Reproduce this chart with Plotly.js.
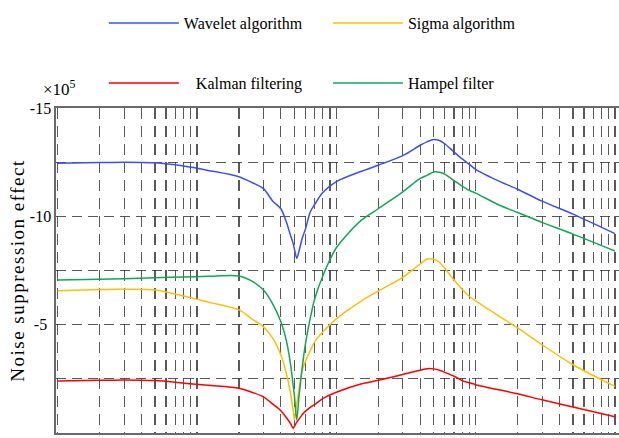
<!DOCTYPE html>
<html><head><meta charset="utf-8">
<script src="https://cdn.plot.ly/plotly-3.0.1.min.js"></script>
<style>html,body{margin:0;padding:0;background:#fff}#chart{width:619px;height:438px}
.ytitle{letter-spacing:1.5px}</style>
</head><body><div id="chart"></div>
<script>
const freq    = [1, 2, 3, 5, 8, 12, 20, 25, 30, 35, 40, 44, 47, 49, 50, 52, 54, 57, 60, 65, 70, 80, 100, 150, 200, 300, 400, 450, 500, 550, 600, 700, 800, 900, 1000, 1500, 2000, 3000, 5000, 10000];
const wavelet = [-12.45, -12.48, -12.5, -12.47, -12.32, -12.12, -11.83, -11.55, -11.28, -10.7, -10.35, -9.7, -9.1, -8.75, -8.5, -8.06, -8.4, -9.0, -9.4, -10.2, -10.55, -11.1, -11.6, -12.07, -12.36, -12.8, -13.28, -13.45, -13.55, -13.5, -13.35, -12.97, -12.65, -12.4, -12.17, -11.6, -11.25, -10.7, -10.1, -9.2];
const sigma   = [-6.57, -6.62, -6.63, -6.6, -6.32, -6.04, -5.68, -5.25, -4.9, -4.37, -3.6, -2.7, -1.8, -1.05, -0.6, -1.34, -2.0, -2.9, -3.3, -3.8, -4.22, -4.66, -5.27, -6.08, -6.55, -7.18, -7.8, -8.03, -8.02, -7.88, -7.6, -7.06, -6.63, -6.31, -6.1, -5.36, -4.85, -4.07, -3.15, -2.15];
const kalman  = [-2.4, -2.43, -2.45, -2.42, -2.3, -2.2, -2.07, -1.87, -1.67, -1.33, -1.03, -0.69, -0.43, -0.22, -0.3, -0.5, -0.64, -0.85, -1.0, -1.18, -1.32, -1.59, -1.88, -2.26, -2.43, -2.7, -2.9, -2.97, -2.96, -2.9, -2.8, -2.62, -2.42, -2.32, -2.23, -1.98, -1.81, -1.53, -1.2, -0.75];
const hampel  = [-7.06, -7.1, -7.12, -7.17, -7.2, -7.23, -7.25, -7.0, -6.6, -5.95, -5.13, -4.2, -3.15, -2.2, -1.75, -0.6, -1.7, -3.05, -4.1, -5.3, -6.2, -7.25, -8.55, -9.8, -10.35, -11.13, -11.75, -11.9, -12.05, -12.03, -11.95, -11.65, -11.4, -11.2, -11.07, -10.5, -10.18, -9.72, -9.18, -8.4];

const seriesNames = ['Wavelet algorithm', 'Sigma algorithm', '\u00a0\u00a0\u00a0Kalman filtering', 'Hampel filter'];
const yTickVals = [0, -2.5, -5, -7.5, -10, -12.5, -15];
const yTickText = ['0\u00a0\u00a0', '', '-5\u00a0', '', '-10', '', '-15'];

const serif = 'Liberation Serif';
const gridCol = 'rgba(60,60,60,0.85)';

function tr(y, name, color, leg) {
  return {x: freq, y: y, name: name, type: 'scatter', mode: 'lines',
    line: {color: color, width: 1.5, shape: 'spline', smoothing: 0.8}, legend: leg};
}
const data = [
  tr(wavelet, seriesNames[0], '#3d4ef7', 'legend'),
  tr(sigma, seriesNames[1], '#ffc000', 'legend2'),
  tr(kalman, seriesNames[2], '#ff0000', 'legend3'),
  tr(hampel, seriesNames[3], '#10a855', 'legend4')
];
const legBase = {xanchor: 'left', yanchor: 'middle', bgcolor: 'rgba(0,0,0,0)', borderwidth: 0,
  itemwidth: 70, font: {family: serif, size: 16, color: '#000'}};
const layout = {
  width: 619, height: 438,
  margin: {l: 56, r: 0, t: 108, b: 5},
  paper_bgcolor: '#fff', plot_bgcolor: '#fff',
  showlegend: true,
  legend:  Object.assign({}, legBase, {x: 0.085, y: 1.2615}),
  legend2: Object.assign({}, legBase, {x: 0.483, y: 1.2615}),
  legend3: Object.assign({}, legBase, {x: 0.085, y: 1.077}),
  legend4: Object.assign({}, legBase, {x: 0.483, y: 1.077}),
  font: {family: serif},
  xaxis: {
    type: 'log', range: [-0.012, 4.029],
    dtick: 'D1', showticklabels: false, ticks: '',
    showgrid: true, gridcolor: gridCol, gridwidth: 1.2, griddash: '11px,7px',
    showline: true, mirror: true, linecolor: '#6a6a6a', linewidth: 1.6, zeroline: false
  },
  yaxis: {
    range: [0, -15], tickmode: 'array', tickvals: yTickVals, ticktext: yTickText,
    ticks: '', showgrid: true, gridcolor: gridCol, gridwidth: 1.2, griddash: '10px,6px',
    zeroline: false, showline: true, mirror: true, linecolor: '#6a6a6a', linewidth: 1.6,
    tickfont: {family: serif, size: 16, color: '#000'},
    title: {text: '\u00a0\u00a0\u00a0\u00a0\u00a0\u00a0Noise suppression effect', font: {family: serif, size: 19, color: '#000'}, standoff: 0}
  },
  annotations: [{
    text: '×10<sup>5</sup>', xref: 'paper', yref: 'paper', x: -0.027, y: 1.062,
    xanchor: 'left', yanchor: 'middle', showarrow: false,
    font: {family: serif, size: 17, color: '#000'}
  }]
};
Plotly.newPlot('chart', data, layout, {staticPlot: true, displayModeBar: false});
</script></body></html>
